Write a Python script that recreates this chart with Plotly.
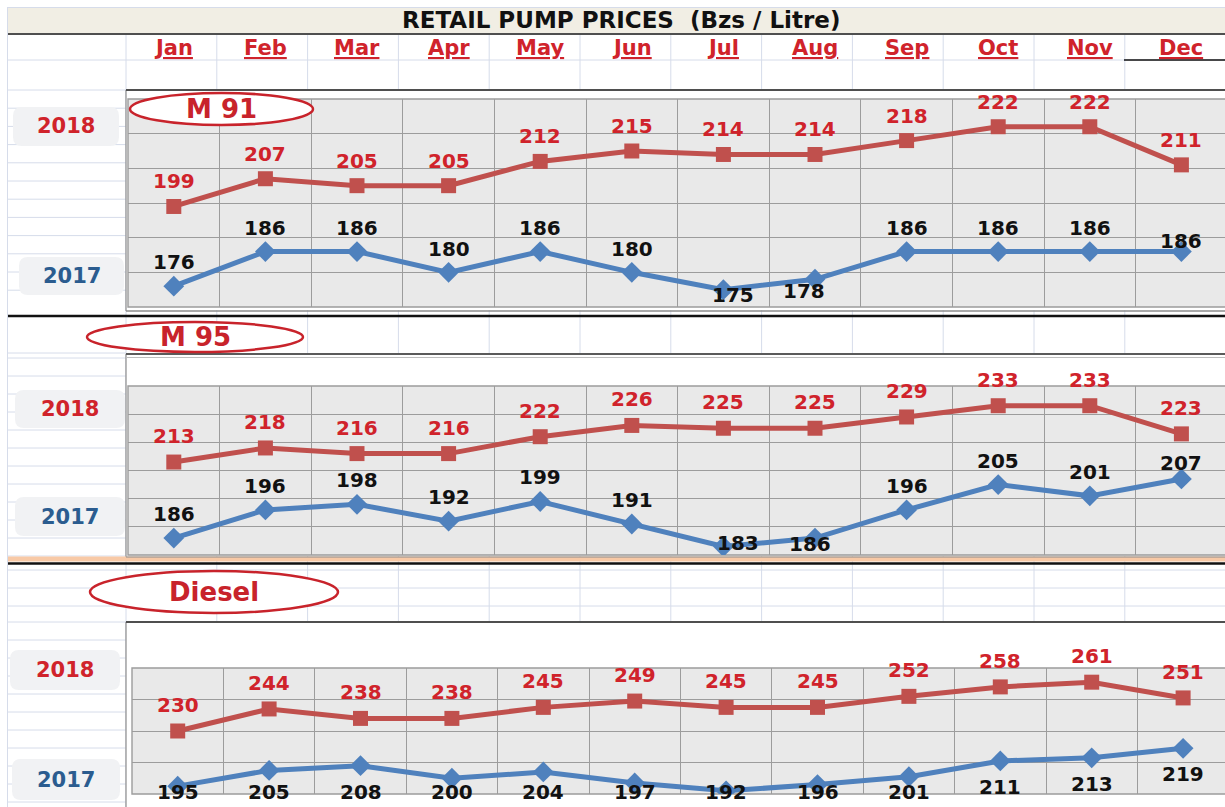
import plotly.graph_objects as go

W, H = 1225, 807

# ---------------- data ----------------
months = ["Jan", "Feb", "Mar", "Apr", "May", "Jun", "Jul", "Aug", "Sep", "Oct", "Nov", "Dec"]
m91_2018 = [199, 207, 205, 205, 212, 215, 214, 214, 218, 222, 222, 211]
m91_2017 = [176, 186, 186, 180, 186, 180, 175, 178, 186, 186, 186, 186]
m95_2018 = [213, 218, 216, 216, 222, 226, 225, 225, 229, 233, 233, 223]
m95_2017 = [186, 196, 198, 192, 199, 191, 183, 186, 196, 205, 201, 207]
diesel_2018 = [230, 244, 238, 238, 245, 249, 245, 245, 252, 258, 261, 251]
diesel_2017 = [195, 205, 208, 200, 204, 197, 192, 196, 201, 211, 213, 219]
products = ["M 91", "M 95", "Diesel"]
years = ["2018", "2017"]
title_text = "RETAIL PUMP PRICES  (Bzs / Litre)"

# ---------------- style ----------------
RED_LINE = "#C0504D"
BLUE_LINE = "#4F81BD"
RED_TXT = "#D0232B"
BLUE_TXT = "#2B5C8F"
PLOT_BG = "#E9E9E9"
GRIDC = "#9C9C9C"
SHEET = "#D6DCEA"
DARK = "#4F4F4F"
FONT = "DejaVu Sans"

panels = [
    dict(name=products[0], s18=m91_2018, s17=m91_2017, ytop=99, ybot=307, xl=128, cw=91.6,
         yr=(170, 230), dt=10,
         d18=[-25] * 12,
         d17=[-24, -24, -24, -23, -24, -23, 5, 12, -24, -24, -24, -11],
         x17=[0, 0, 0, 0, 0, 0, 10, -11, 0, 0, 0, 0]),
    dict(name=products[1], s18=m95_2018, s17=m95_2017, ytop=386, ybot=555, xl=128, cw=91.6,
         yr=(180, 240), dt=10,
         d18=[-26] * 12,
         d17=[-24, -24, -24, -24, -24, -24, -4, 6, -24, -24, -24, -16],
         x17=[0, 0, 0, 0, 0, 0, 15, -5, 0, 0, 0, 0]),
    dict(name=products[2], s18=diesel_2018, s17=diesel_2017, ytop=668, ybot=794, xl=132, cw=91.4,
         yr=(190, 270), dt=20,
         d18=[-26] * 12,
         d17=None, x17=[0] * 12),
]


def fx(x):
    return x / W


def fy(y):
    return 1 - y / H


shapes = []


def hline(y, x0, x1, color, width=1.0, layer="below"):
    shapes.append(dict(type="line", xref="paper", yref="paper", x0=fx(x0), x1=fx(x1),
                       y0=fy(y), y1=fy(y), line=dict(color=color, width=width), layer=layer))


def vline(x, y0, y1, color, width=1.0, layer="below"):
    shapes.append(dict(type="line", xref="paper", yref="paper", x0=fx(x), x1=fx(x),
                       y0=fy(y0), y1=fy(y1), line=dict(color=color, width=width), layer=layer))


def rect(x0, y0, x1, y1, fill, lc=None, lw=0, layer="below"):
    shapes.append(dict(type="rect", xref="paper", yref="paper", x0=fx(x0), x1=fx(x1),
                       y0=fy(y1), y1=fy(y0), fillcolor=fill,
                       line=dict(color=lc or fill, width=lw), layer=layer))


def rrect(x0, y0, x1, y1, r, fill):
    pts = [
        ("M", x0 + r, y0), ("L", x1 - r, y0), ("Q", x1, y0, x1, y0 + r), ("L", x1, y1 - r),
        ("Q", x1, y1, x1 - r, y1), ("L", x0 + r, y1), ("Q", x0, y1, x0, y1 - r),
        ("L", x0, y0 + r), ("Q", x0, y0, x0 + r, y0)]
    path = ""
    for p in pts:
        cmd = p[0]
        coords = p[1:]
        s = []
        for i in range(0, len(coords), 2):
            s.append(f"{fx(coords[i]):.5f},{fy(coords[i + 1]):.5f}")
        path += cmd + " " + " ".join(s) + " "
    shapes.append(dict(type="path", xref="paper", yref="paper", path=path + "Z",
                       fillcolor=fill, line=dict(width=0), layer="below"))


def ellipse(x0, y0, x1, y1):
    shapes.append(dict(type="circle", xref="paper", yref="paper", x0=fx(x0), x1=fx(x1),
                       y0=fy(y1), y1=fy(y0), fillcolor="white",
                       line=dict(color="#C8232B", width=2.5), layer="above"))


# ---------------- spreadsheet background ----------------
vline(7.5, 7, H, SHEET)
hline(7.5, 7, W, SHEET)
rect(8, 8, W, 33, "#F1EEE4")
cols = [126 + 90.8 * k for k in range(12)]
for c in cols:
    vline(c, 34, H, SHEET)
hline(60, 8, W, SHEET)
hline(90, 8, 126, SHEET)
for k in range(1, 12):
    hline(90 + 18.2 * k, 8, 126, SHEET)
hline(353, 8, 126, SHEET)
for k in range(12):
    hline(358 + 18 * k, 8, 126, SHEET)
for yy in (570, 588, 606):
    hline(yy, 8, W, SHEET)
hline(622, 8, 126, SHEET)
for k in range(10):
    hline(640 + 18 * k, 8, 126, SHEET)

# chart areas
rect(126, 91, W, 310, "white")
rect(126, 355, W, 556, "white")
rect(126, 623, W, H, "white")
vline(126, 90, 311, "#8C8C8C", 1.2)
vline(126, 354, 557, "#8C8C8C", 1.2)
vline(126, 622, H, "#8C8C8C", 1.2)

# dark separators
hline(34, 8, W, DARK, 2)
hline(60, 1124, W, "#111111", 1.3)
hline(90, 126, W, DARK, 2)
hline(311, 126, W, "#8C8C8C", 1.5)
hline(316, 8, W, "#111111", 2.5)
hline(354, 126, W, "#5A5A5A", 2)
hline(357.5, 126, W, "#BDBDBD", 1)
rect(8, 556.5, W, 561.5, "#F8C9A6")
hline(557, 126, W, "#8C8C8C", 1.2)
hline(563.5, 8, W, "#111111", 2.5)
hline(622, 126, W, DARK, 2)

# plot areas
for p in panels:
    rect(p["xl"], p["ytop"], W + 2, p["ybot"], PLOT_BG, GRIDC, 1.4)

# year boxes
boxes = [
    ((13, 107, 119, 146), (19, 257, 124, 295)),
    ((15, 390, 125, 428), (15, 497, 125, 536)),
    ((10, 650, 120, 690), (12, 759, 120, 800)),
]
for b18, b17 in boxes:
    rrect(*b18, 9, "#F1F2F4")
    rrect(*b17, 9, "#F1F2F4")

ellipses = [(130, 93, 313, 125), (87, 322, 303, 352), (90, 571, 338, 613)]
for e in ellipses:
    ellipse(*e)

# ---------------- traces & axes ----------------
fig = go.Figure()
layout_axes = {}
annotations = []

annotations.append(dict(xref="paper", yref="paper", x=fx(621), y=fy(20), text=title_text,
                        showarrow=False, xanchor="center", yanchor="middle",
                        font=dict(family=FONT, size=23, color="#111111", weight="bold")))

x_idx = list(range(len(months)))
for n, p in enumerate(panels):
    sfx = "" if n == 0 else str(n + 1)
    xa, ya = "x" + sfx, "y" + sfx
    ncat = (W - p["xl"]) / p["cw"]
    layout_axes["xaxis" + sfx] = dict(
        domain=[fx(p["xl"]), 1], range=[-0.5, -0.5 + ncat], anchor=ya,
        tickmode="linear", tick0=-0.5, dtick=1, showgrid=True, gridcolor=GRIDC, gridwidth=1.4,
        showticklabels=False, ticks="", zeroline=False, showline=False, fixedrange=True)
    layout_axes["yaxis" + sfx] = dict(
        domain=[fy(p["ybot"]), fy(p["ytop"])], range=list(p["yr"]), anchor=xa,
        tickmode="linear", tick0=p["yr"][0], dtick=p["dt"], showgrid=True, gridcolor=GRIDC,
        gridwidth=1.4, showticklabels=False, ticks="", zeroline=False, showline=False,
        fixedrange=True)

    fig.add_trace(go.Scatter(
        x=x_idx, y=p["s17"], xaxis=xa, yaxis=ya, mode="lines+markers", name=years[1],
        line=dict(color=BLUE_LINE, width=5),
        marker=dict(symbol="diamond", size=16, color=BLUE_LINE), hoverinfo="skip"))
    fig.add_trace(go.Scatter(
        x=x_idx, y=p["s18"], xaxis=xa, yaxis=ya, mode="lines+markers", name=years[0],
        line=dict(color=RED_LINE, width=5),
        marker=dict(symbol="square", size=15, color=RED_LINE), hoverinfo="skip"))

    # data labels
    ymin, ymax = p["yr"]
    pxu = (p["ybot"] - p["ytop"]) / (ymax - ymin)
    for i, v in enumerate(p["s18"]):
        annotations.append(dict(xref=xa, yref=ya, x=i, y=v, text=str(v), showarrow=False,
                                yshift=-p["d18"][i], xanchor="center", yanchor="middle",
                                font=dict(family=FONT, size=20, color=RED_TXT, weight="bold")))
    for i, v in enumerate(p["s17"]):
        if p["d17"] is None:
            mpx = p["ybot"] - (v - ymin) * pxu
            dy = min(mpx + 26, 792) - mpx
        else:
            dy = p["d17"][i]
        annotations.append(dict(xref=xa, yref=ya, x=i, y=v, text=str(v), showarrow=False,
                                yshift=-dy, xshift=p["x17"][i], xanchor="center",
                                yanchor="middle",
                                font=dict(family=FONT, size=20, color="#111111", weight="bold")))

# month headers
for i, m in enumerate(months):
    annotations.append(dict(xref="x", yref="paper", x=i, y=fy(48), text=m, showarrow=False,
                            xanchor="center", yanchor="middle",
                            font=dict(family=FONT, size=21, color=RED_TXT, weight="bold",
                                      lineposition="under")))

# ellipse titles
for (x0, y0, x1, y1), name in zip(ellipses, products):
    annotations.append(dict(xref="paper", yref="paper", x=fx((x0 + x1) / 2), y=fy((y0 + y1) / 2),
                            text=name, showarrow=False, xanchor="center", yanchor="middle",
                            font=dict(family=FONT, size=26, color="#C8232B", weight="bold")))

# year labels
for b18, b17 in boxes:
    for (x0, y0, x1, y1), yr, col in ((b18, years[0], RED_TXT), (b17, years[1], BLUE_TXT)):
        annotations.append(dict(xref="paper", yref="paper", x=fx((x0 + x1) / 2),
                                y=fy((y0 + y1) / 2), text=yr, showarrow=False,
                                xanchor="center", yanchor="middle",
                                font=dict(family=FONT, size=21, color=col, weight="bold")))

fig.update_layout(
    width=W, height=H, margin=dict(l=0, r=0, t=0, b=0),
    paper_bgcolor="white", plot_bgcolor="rgba(0,0,0,0)",
    showlegend=False, shapes=shapes, annotations=annotations, hovermode=False,
    **layout_axes)

fig.write_html("out.html", config={"displayModeBar": False},
               post_script="document.body.style.margin='0';document.body.style.overflow='hidden';")
